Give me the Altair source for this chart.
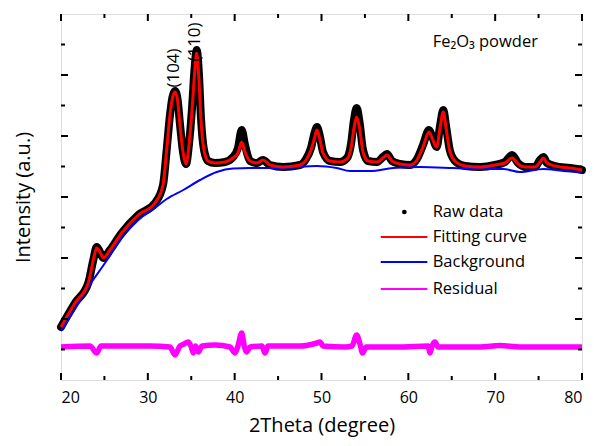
import altair as alt
import pandas as pd

# ---- data (2Theta in degrees, intensity in arbitrary units) ----
fit_x = [20.00, 21.61, 23.14, 23.72, 24.11, 24.49, 24.87, 25.64, 26.99, 28.90, 30.83,
         31.75, 32.17, 32.55, 32.84, 33.13, 33.42, 33.70, 34.05, 34.40, 34.74, 35.09,
         35.37, 35.63, 35.89, 36.12, 36.47, 36.93, 37.74, 38.89, 39.81, 40.38, 40.81,
         41.19, 41.77, 42.57, 43.26, 44.07, 45.57, 47.52, 48.22, 48.79, 49.20, 49.48,
         49.83, 50.17, 50.98, 52.13, 52.94, 53.40, 53.74, 54.05, 54.38, 54.78, 55.36,
         56.39, 57.08, 57.54, 58.12, 59.04, 60.19, 61.00, 61.69, 62.38, 62.73, 63.27,
         63.65, 64.03, 64.34, 64.80, 65.49, 66.53, 68.26, 69.98, 71.13, 71.94, 72.63,
         73.44, 74.59, 75.16, 75.55, 75.97, 76.89, 78.62, 80.00]
fit_y = [53, 77, 97, 120, 132, 128, 122, 130, 147, 165, 177,
         195, 230, 265, 282, 288, 280, 255, 228, 216, 235, 270,
         305, 327, 300, 260, 230, 219, 217, 218, 222, 227, 238,
         228, 219, 217, 220, 215, 213, 215, 220, 230, 242, 250,
         240, 227, 219, 218, 221, 232, 252, 263, 252, 228, 219,
         218, 222, 225, 219, 216, 215, 220, 233, 248, 242, 233,
         252, 268, 252, 228, 218, 214, 213, 215, 217, 222, 216,
         213, 213, 218, 222, 217, 214, 212, 210]
raw_y = [53, 77, 97, 120, 133, 128, 122, 130, 147, 165, 177,
         195, 230, 265, 283, 289, 281, 256, 228, 216, 236, 272,
         310, 330, 305, 262, 230, 219, 217, 218, 223, 232, 250,
         235, 219, 217, 220, 215, 213, 215, 221, 232, 247, 253,
         243, 228, 219, 218, 222, 236, 260, 272, 258, 230, 219,
         218, 223, 226, 219, 216, 215, 221, 235, 250, 244, 233,
         254, 270, 254, 229, 218, 214, 213, 215, 218, 225, 217,
         213, 213, 220, 223, 217, 214, 212, 210]

bg_x = [20.00, 21.61, 23.14, 25.07, 26.99, 28.90, 30.83, 32.17, 34.08, 36.01, 37.93,
        39.81, 41.77, 45.57, 49.45, 51.75, 53.28, 55.59, 58.24, 61.34, 65.15, 68.26,
        70.94, 72.86, 75.55, 77.85, 80.00]
bg_y = [49, 71, 93, 117, 142, 160, 172, 181, 190, 200, 208,
        211.5, 212, 212, 214, 212, 209, 209, 212, 213, 212, 211,
        211, 208, 211, 209, 208]

res_x = [20.00, 23.34, 24.11, 24.61, 30.25, 32.55, 33.13, 33.70, 34.17, 34.66, 34.97,
         35.24, 35.49, 35.81, 36.24, 37.74, 39.46, 40.04, 40.38, 40.81, 41.08, 41.39,
         41.77, 43.15, 43.49, 43.84, 47.52, 49.48, 49.83, 50.17, 52.71, 53.51, 54.05,
         54.43, 54.74, 55.13, 59.04, 62.27, 62.50, 62.73, 63.08, 63.42, 68.26, 70.56,
         72.86, 80.00]
res_y = [33, 34, 27, 34, 34, 33, 25, 34, 36, 38, 34,
         27, 34, 28, 34, 35, 33, 27, 34, 47, 35, 28,
         33, 34, 27, 34, 34, 37, 38, 34, 33, 34, 45,
         36, 27, 33, 33, 34, 27, 34, 38, 33, 33, 34.5,
         33, 33]

x_major = [20, 30, 40, 50, 60, 70, 80]
x_minor = [25, 35, 45, 55, 65, 75]
y_major = [61, 122, 183, 244, 305]
y_minor = [30.5, 91.5, 152.5, 213.5, 274.5, 335.5]

peak_labels = ["(104)", "(110)"]
peak_x = [33.0, 35.43]
peak_y = [312, 338]

legend_labels = ["Raw data", "Fitting curve", "Background", "Residual"]
legend_colors = ["#000000", "#FF0000", "#0000FF", "#FF00FF"]
legend_y = [168, 143, 118, 91]

W, H = 521, 366
FONT = "Open Sans"

xs = alt.Scale(domain=[20, 80], nice=False, zero=False)
ys = alt.Scale(domain=[0, 366], nice=False, zero=False)

xax = alt.Axis(values=x_major, ticks=False, domain=False, grid=False, labelFontSize=16,
               labelFont=FONT, labelColor="#000", labelPadding=9, title="2Theta (degree)",
               titleFont=FONT, titleFontSize=20, titleFontWeight="normal", titleColor="#000",
               titlePadding=10)
yax = alt.Axis(labels=False, ticks=False, domain=False, grid=False, title="Intensity (a.u.)",
               titleFont=FONT, titleFontSize=20, titleFontWeight="normal", titleColor="#000",
               titlePadding=28)

fit_df = pd.DataFrame({"x": fit_x, "fit": fit_y, "raw": raw_y})
bg_df = pd.DataFrame({"x": bg_x, "y": bg_y})
res_df = pd.DataFrame({"x": res_x, "y": res_y})

raw = alt.Chart(fit_df).mark_line(color="#000000", strokeWidth=8, strokeJoin="round",
                                  strokeCap="round", interpolate="monotone").encode(
    x=alt.X("x:Q", scale=xs, axis=xax),
    y=alt.Y("raw:Q", scale=ys, axis=yax),
)
bg = alt.Chart(bg_df).mark_line(color="#0000FF", strokeWidth=2, interpolate="monotone").encode(
    x=alt.X("x:Q", scale=xs), y=alt.Y("y:Q", scale=ys))
fit = alt.Chart(fit_df).mark_line(color="#FF0000", strokeWidth=3, interpolate="monotone").encode(
    x=alt.X("x:Q", scale=xs), y=alt.Y("fit:Q", scale=ys))
res = alt.Chart(res_df).mark_line(color="#FF00FF", strokeWidth=5.5, interpolate="monotone").encode(
    x=alt.X("x:Q", scale=xs), y=alt.Y("y:Q", scale=ys))

# inward ticks on all four sides
xmaj = pd.DataFrame({"v": x_major})
xmin = pd.DataFrame({"v": x_minor})
ymaj = pd.DataFrame({"v": y_major})
ymin = pd.DataFrame({"v": y_minor})
tk = []
for df, L in [(xmaj, 7), (xmin, 4)]:
    tk.append(alt.Chart(df).mark_rule(color="#000", strokeWidth=2).encode(
        x=alt.X("v:Q", scale=xs), y=alt.value(H), y2=alt.value(H - L)))
    tk.append(alt.Chart(df).mark_rule(color="#000", strokeWidth=2).encode(
        x=alt.X("v:Q", scale=xs), y=alt.value(0), y2=alt.value(L)))
for df, L in [(ymaj, 7), (ymin, 4)]:
    tk.append(alt.Chart(df).mark_rule(color="#000", strokeWidth=2).encode(
        y=alt.Y("v:Q", scale=ys), x=alt.value(0), x2=alt.value(L)))
    tk.append(alt.Chart(df).mark_rule(color="#000", strokeWidth=2).encode(
        y=alt.Y("v:Q", scale=ys), x=alt.value(W), x2=alt.value(W - L)))

peaks = alt.Chart(pd.DataFrame({"t": peak_labels, "x": peak_x, "y": peak_y})).mark_text(
    angle=270, font=FONT, fontSize=17, align="center", baseline="middle", color="#000").encode(
    x=alt.X("x:Q", scale=xs), y=alt.Y("y:Q", scale=ys), text="t:N")

title_txt = alt.Chart(pd.DataFrame({"t": ["Fe\u2082O\u2083 powder"], "x": [62.8], "y": [338]})).mark_text(
    font=FONT, fontSize=16.5, align="left", baseline="middle", color="#000").encode(
    x=alt.X("x:Q", scale=xs), y=alt.Y("y:Q", scale=ys), text="t:N")

leg_df = pd.DataFrame({"t": legend_labels, "c": legend_colors, "y": legend_y,
                       "x0": [56.82] * 4, "x1": [62.19] * 4, "xt": [62.8] * 4, "xd": [59.54] * 4})
leg_text = alt.Chart(leg_df).mark_text(font=FONT, fontSize=16.5, align="left", baseline="middle",
                                       color="#000").encode(
    x=alt.X("xt:Q", scale=xs), y=alt.Y("y:Q", scale=ys), text="t:N")
leg_lines = alt.Chart(leg_df).transform_filter("datum.t != 'Raw data'").mark_rule(strokeWidth=1.8).encode(
    x=alt.X("x0:Q", scale=xs), x2="x1:Q", y=alt.Y("y:Q", scale=ys),
    color=alt.Color("c:N", scale=None))
leg_dot = alt.Chart(leg_df).transform_filter("datum.t == 'Raw data'").mark_circle(size=22, color="#000", opacity=1).encode(
    x=alt.X("xd:Q", scale=xs), y=alt.Y("y:Q", scale=ys))

chart = alt.layer(raw, bg, fit, res, *tk, peaks, title_txt, leg_text, leg_lines, leg_dot).properties(
    width=W, height=H,
    autosize=alt.AutoSizeParams(type="none"),
    padding={"left": 53, "top": 6, "right": 4, "bottom": 58},
).configure_view(stroke="#000", strokeWidth=2).configure(background="white")

chart.save("out.html", embed_options={"renderer": "svg", "actions": False})
